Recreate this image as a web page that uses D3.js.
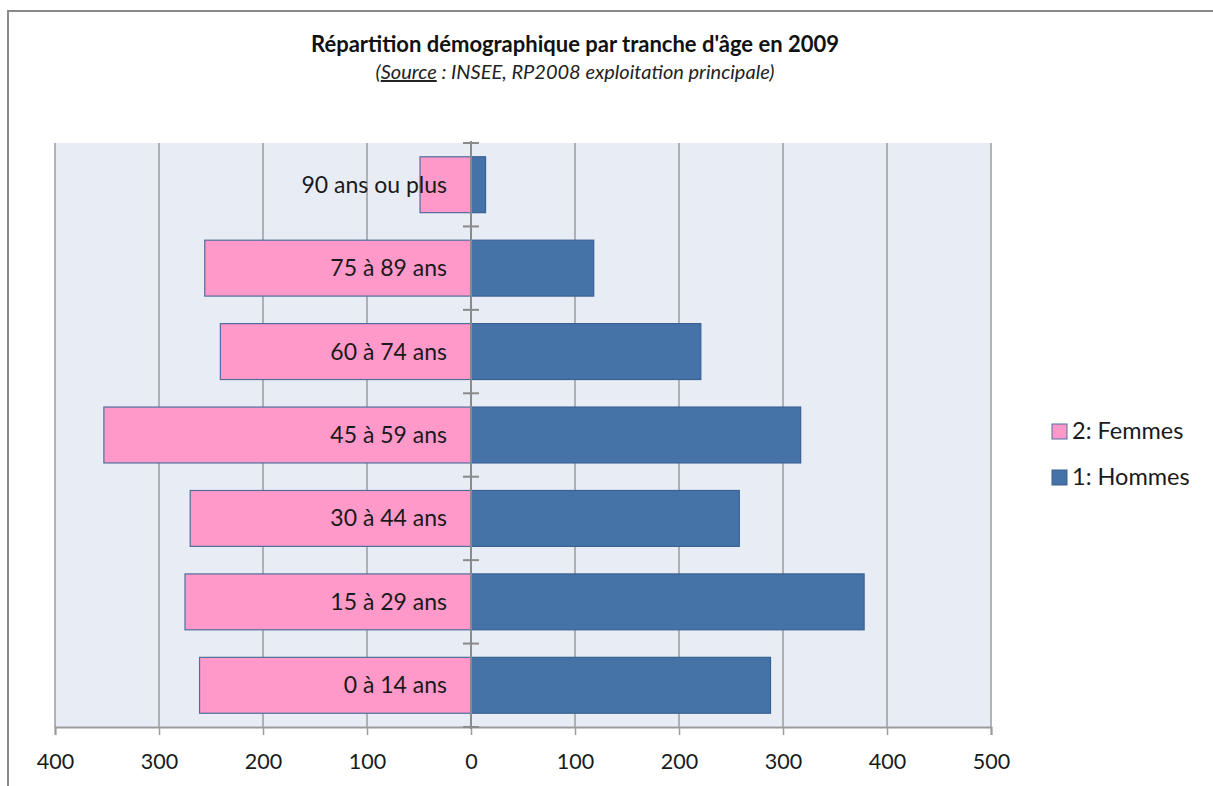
<!DOCTYPE html>
<html>
<head>
<meta charset="utf-8">
<script src="https://cdn.jsdelivr.net/npm/d3@7"></script>
<style>
body { margin: 0; background: #fff; }
svg { display: block; }
</style>
</head>
<body>
<svg id="chart" width="1213" height="786"></svg>
<script>
const categories = ["90 ans ou plus", "75 à 89 ans", "60 à 74 ans", "45 à 59 ans", "30 à 44 ans", "15 à 29 ans", "0 à 14 ans"];
const femmes = [49, 256, 241, 353, 270, 275, 261];
const hommes = [14, 118, 221, 317, 258, 378, 288];
const tickValues = [-400, -300, -200, -100, 0, 100, 200, 300, 400, 500];
const seriesNames = ["2: Femmes", "1: Hommes"];
const colors = { femmes: "#FF99C9", hommes: "#4573A7" };

const svg = d3.select("#chart");
const font = "Lato, 'Open Sans', sans-serif";

// Outer frame
svg.append("rect").attr("x", 8).attr("y", 11).attr("width", 1230).attr("height", 800)
  .attr("fill", "#fff").attr("stroke", "#8a8a8a").attr("stroke-width", 2);

const plot = { left: 55, right: 991, top: 143, bottom: 727 };

const x = d3.scaleLinear().domain([-400, 500]).range([plot.left, plot.right]);
const y = d3.scaleBand().domain(categories).range([plot.top, plot.bottom]).paddingInner(0.33).paddingOuter(0.165);

// Plot background
svg.append("rect").attr("x", plot.left).attr("y", plot.top)
  .attr("width", plot.right - plot.left).attr("height", plot.bottom - plot.top)
  .attr("fill", "#E8ECF4");

// Gridlines
svg.append("g").selectAll("line").data(tickValues.filter(d => d !== 0)).join("line")
  .attr("x1", d => x(d)).attr("x2", d => x(d))
  .attr("y1", plot.top).attr("y2", plot.bottom)
  .attr("stroke", "#9c9c9c").attr("stroke-width", 1.5);

// Bars
svg.append("g").selectAll("rect").data(categories).join("rect")
  .attr("x", (d, i) => x(-femmes[i])).attr("y", d => y(d))
  .attr("width", (d, i) => x(0) - x(-femmes[i])).attr("height", y.bandwidth())
  .attr("fill", colors.femmes).attr("stroke", "#4F6E9E").attr("stroke-width", 1.2);

svg.append("g").selectAll("rect").data(categories).join("rect")
  .attr("x", x(0)).attr("y", d => y(d))
  .attr("width", (d, i) => x(hommes[i]) - x(0)).attr("height", y.bandwidth())
  .attr("fill", colors.hommes).attr("stroke", "#3A6194").attr("stroke-width", 1.2);

// Bottom axis
const xAxis = d3.axisBottom(x).tickValues(tickValues).tickFormat(d => Math.abs(d)).tickSize(8).tickPadding(19);
const gx = svg.append("g").attr("transform", `translate(0,${plot.bottom})`).call(xAxis);
gx.select(".domain").attr("stroke", "#9c9c9c").attr("stroke-width", 2);
gx.selectAll(".tick line").attr("stroke", "#9c9c9c").attr("stroke-width", 1.5);
gx.selectAll(".tick text").attr("font-family", font).attr("font-size", 21.5).attr("fill", "#1a1a1a");

// Vertical zero axis with category separators
const yAxisG = svg.append("g");
yAxisG.append("line").attr("x1", x(0)).attr("x2", x(0)).attr("y1", plot.top - 2).attr("y2", plot.bottom + 2)
  .attr("stroke", "#8a8a8a").attr("stroke-width", 2);
const boundaries = d3.range(categories.length + 1).map(i => plot.top + i * (plot.bottom - plot.top) / categories.length);
yAxisG.selectAll("line.sep").data(boundaries).join("line").attr("class", "sep")
  .attr("x1", x(0) - 8).attr("x2", x(0) + 8).attr("y1", d => d).attr("y2", d => d)
  .attr("stroke", "#8a8a8a").attr("stroke-width", 2);

// Category labels
svg.append("g").selectAll("text").data(categories).join("text")
  .attr("x", x(0) - 24).attr("y", d => y(d) + y.bandwidth() / 2)
  .attr("dy", "0.35em").attr("text-anchor", "end")
  .attr("font-family", font).attr("font-size", 23).attr("fill", "#1a1a1a")
  .text(d => d);

// Title
svg.append("text").attr("x", 575).attr("y", 52).attr("text-anchor", "middle")
  .attr("font-family", font).attr("font-weight", "bold").attr("font-size", 22).attr("fill", "#111")
  .text("Répartition démographique par tranche d'âge en 2009");
const sub = svg.append("text").attr("x", 575).attr("y", 79).attr("text-anchor", "middle")
  .attr("font-family", font).attr("font-style", "italic").attr("font-size", 20).attr("fill", "#222");
sub.append("tspan").text("(");
sub.append("tspan").attr("text-decoration", "underline").text("Source");
sub.append("tspan").text(" : INSEE, RP2008 exploitation principale)");

// Legend
const legend = svg.append("g");
const legendItems = [
  { name: seriesNames[0], fill: colors.femmes, stroke: "#4F6E9E", y: 431 },
  { name: seriesNames[1], fill: colors.hommes, stroke: "#3A6194", y: 477 }
];
legend.selectAll("rect").data(legendItems).join("rect")
  .attr("x", 1052).attr("y", d => d.y - 7).attr("width", 15).attr("height", 15)
  .attr("fill", d => d.fill).attr("stroke", d => d.stroke).attr("stroke-width", 1);
legend.selectAll("text").data(legendItems).join("text")
  .attr("x", 1072).attr("y", d => d.y).attr("dy", "0.35em")
  .attr("font-family", font).attr("font-size", 23.5).attr("fill", "#1a1a1a")
  .text(d => d.name);
</script>
</body>
</html>
